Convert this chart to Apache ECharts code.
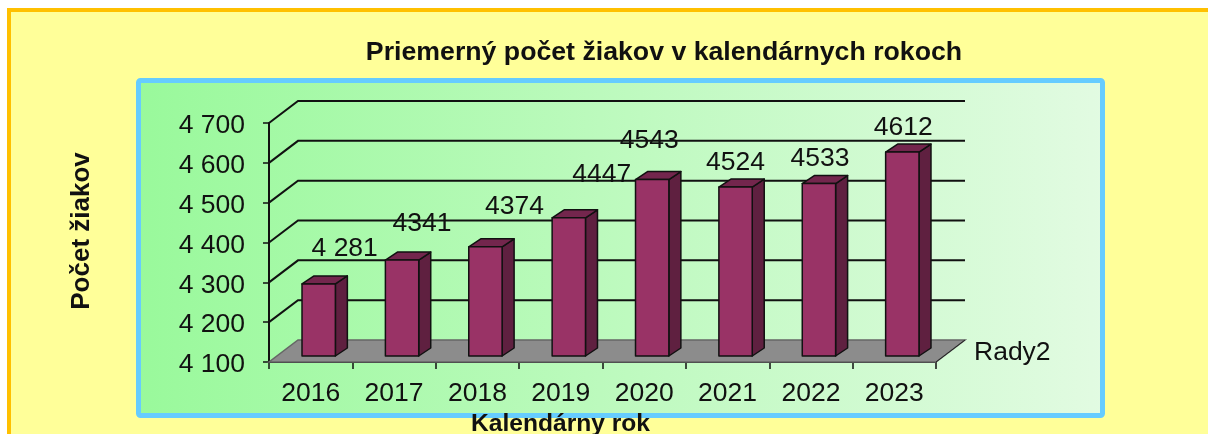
<!DOCTYPE html>
<html>
<head>
<meta charset="utf-8">
<style>html,body{margin:0;padding:0;background:#fff}#c{width:1208px;height:434px}</style>
<script src="https://cdn.jsdelivr.net/npm/echarts@6/dist/echarts.min.js"></script>
</head>
<body>
<div id="c"></div>
<script>
const categories = ['2016','2017','2018','2019','2020','2021','2022','2023'];
const values = [4281,4341,4374,4447,4543,4524,4533,4612];
const valueLabels = ['4 281','4341','4374','4447','4543','4524','4533','4612'];
const yTicks = [4100,4200,4300,4400,4500,4600,4700];

// Layout only (pixels)
const labelNudge = [[26,-35],[20,-36],[29,-40],[33,-43],[-3,-39],[0,-24],[1,-25],[1,-24]];
const WALL = [29,-22], BAR_FRONT = [8,-6], BAR_BACK = [20,-14];
const FONT = '"Liberation Sans", Arial, sans-serif';
const LABEL_SIZE = 26.5;

const chart = echarts.init(document.getElementById('c'), null, {renderer:'canvas'});

function wallItem(params, api){
  const cs = params.coordSys;
  const v = api.value(1);
  const y = api.coord([0, v])[1];
  const L = cs.x, R = cs.x + cs.width;
  const children = [];
  if (v === yTicks[0]) {
    children.push({type:'polygon', shape:{points:[[L,y],[R,y],[R+WALL[0],y+WALL[1]],[L+WALL[0],y+WALL[1]]]},
      style:{fill:'#8c8c8c', stroke:'#666', lineWidth:1.5}});
    children.push({type:'line', shape:{x1:R,y1:y,x2:R+WALL[0],y2:y+WALL[1]}, style:{stroke:'#222', lineWidth:1}});
  } else {
    children.push({type:'polyline', shape:{points:[[L,y],[L+WALL[0],y+WALL[1]],[R+WALL[0],y+WALL[1]]]},
      style:{fill:null, stroke:'#111', lineWidth:2}});
  }
  return {type:'group', children};
}

function barItem(params, api){
  const i = api.value(0), v = api.value(1);
  const c = api.coord([i, v]);
  const base = api.coord([i, yTicks[0]]);
  const w = api.size([1,0])[0] * 0.4;
  const x0 = c[0] - w/2 + BAR_FRONT[0], x1 = x0 + w;
  const top = c[1] + BAR_FRONT[1], bot = base[1] + BAR_FRONT[1];
  const dx = BAR_BACK[0]-BAR_FRONT[0], dy = BAR_BACK[1]-BAR_FRONT[1];
  const edge = {stroke:'#111', lineWidth:1.5, lineJoin:'round'};
  const n = labelNudge[params.dataIndex];
  return {type:'group', children:[
    {type:'polygon', shape:{points:[[x1,top],[x1+dx,top+dy],[x1+dx,bot+dy],[x1,bot]]}, style:Object.assign({fill:'#5f2040'},edge)},
    {type:'polygon', shape:{points:[[x0,top],[x0+dx,top+dy],[x1+dx,top+dy],[x1,top]]}, style:Object.assign({fill:'#73264d'},edge)},
    {type:'rect', shape:{x:x0,y:top,width:w,height:bot-top}, style:Object.assign({fill:'#993366'},edge)},
    {type:'text', style:{text:valueLabels[params.dataIndex], x:x0+w/2+n[0], y:top+n[1],
      align:'center', verticalAlign:'middle', font:LABEL_SIZE+'px '+FONT, fill:'#111'}}
  ]};
}

chart.setOption({
  animation:false,
  backgroundColor:'#fff',
  title:{text:'Priemerný počet žiakov v kalendárnych rokoch', left:659, top:34, textAlign:'center',
    textStyle:{fontFamily:FONT, fontWeight:'bold', fontSize:26.7, color:'#111'}},
  graphic:[
    {type:'rect', z:-10, shape:{x:9,y:10,width:1260,height:500}, style:{fill:'#FFFF99', stroke:'#FFC000', lineWidth:4}},
    {type:'rect', z:-9, shape:{x:138.5,y:80.5,width:964,height:335,r:2},
      style:{fill:new echarts.graphic.LinearGradient(0,0,1,0,[{offset:0,color:'#99F99B'},{offset:1,color:'#E2FBE2'}]), stroke:'#66CCFF', lineWidth:5}},
    {type:'text', z:10, style:{text:'Rady2', x:974, y:353, verticalAlign:'middle', font:LABEL_SIZE+'px '+FONT, fill:'#111'}}
  ],
  grid:{left:269, right:272, top:123, bottom:72, containLabel:false, outerBoundsMode:'none'},
  xAxis:{type:'category', data:categories, boundaryGap:true,
    name:'Kalendárny rok', nameLocation:'middle', nameGap:44,
    nameTextStyle:{fontFamily:FONT, fontWeight:'bold', fontSize:24.6, color:'#111', padding:[0,84,0,0]},
    axisLine:{show:true,lineStyle:{color:'#111',width:2}},
    axisTick:{show:true,alignWithLabel:false,length:7,inside:false,lineStyle:{color:'#111',width:1.5}},
    axisLabel:{color:'#111',fontFamily:FONT,fontSize:LABEL_SIZE,margin:18,interval:0},
    splitLine:{show:false}},
  yAxis:{type:'value', min:4100, max:4700, interval:100,
    name:'Počet žiakov', nameLocation:'middle', nameGap:174, nameRotate:90,
    nameTextStyle:{fontFamily:FONT, fontWeight:'bold', fontSize:26, color:'#111', padding:[0,0,0,23]},
    axisLine:{show:true,lineStyle:{color:'#111',width:2}},
    axisTick:{show:true,length:6,lineStyle:{color:'#111',width:1.5}},
    axisLabel:{color:'#111',fontFamily:FONT,fontSize:LABEL_SIZE,margin:24,verticalAlign:'top',lineHeight:6,
      formatter:v=>String(v).replace(/^(\d)(\d{3})$/,'$1 $2')},
    splitLine:{show:false}},
  series:[
    {type:'custom', z:1, silent:true, clip:false, renderItem:wallItem,
      data:yTicks.map(v=>[0,v]), encode:{x:0,y:1}},
    {type:'custom', z:3, silent:true, clip:false, renderItem:barItem,
      data:categories.map((c,i)=>[i,values[i]]), encode:{x:0,y:1}}
  ]
});
</script>
</body>
</html>
